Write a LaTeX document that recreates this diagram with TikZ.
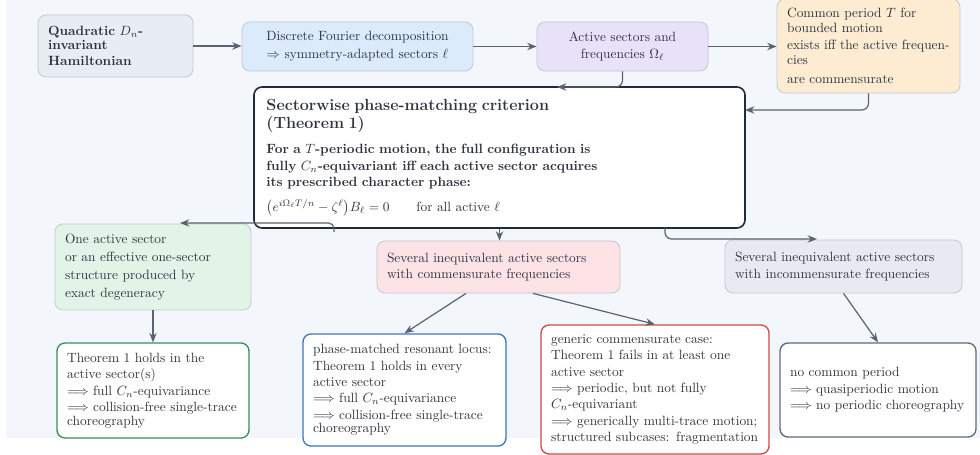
\documentclass[tikz,border=0pt]{standalone}
\usetikzlibrary{arrows.meta,calc}
\definecolor{bg}{HTML}{F3F6FA}
\definecolor{txt}{HTML}{2F3540}
\definecolor{bord}{HTML}{C3C8D0}
\definecolor{arrowc}{HTML}{5C6370}
\definecolor{navy}{HTML}{1F2A3A}
\definecolor{fA}{HTML}{E8ECF3}
\definecolor{fB}{HTML}{DCEBFC}
\definecolor{fC}{HTML}{E9E1FA}
\definecolor{fD}{HTML}{FDEBD2}
\definecolor{fG}{HTML}{E2F4E7}
\definecolor{fP}{HTML}{FDE3E6}
\definecolor{fY}{HTML}{E7EBF1}
\definecolor{cgreen}{HTML}{3C8C5A}
\definecolor{cblue}{HTML}{3A78C0}
\definecolor{cred}{HTML}{D04848}
\definecolor{cslate}{HTML}{5F6B7A}
\tikzset{
  base/.style={rounded corners=6pt, inner xsep=7.5pt, inner ysep=2pt,
    font=\fontsize{10}{12.2}\selectfont, text=txt, line width=0.6pt},
  soft/.style={base, draw=bord, align=left},
  strong/.style={base, fill=white, line width=1pt, align=left},
  arr/.style={draw=arrowc, line width=0.9pt, rounded corners=5pt,
    -{Stealth[length=7pt,width=5.5pt]}}
}
\begin{document}
\begin{tikzpicture}[x=0.746pt,y=-0.746pt]
\useasboundingbox (0,0) rectangle (980,455);
\fill[bg] (6,0) rectangle (980,438);

\node[soft, fill=fA, text width=100.6pt, minimum height=46.3pt] (A) at (115.5,46)
  {\textbf{Quadratic $D_n$-}\\[-2.2pt]\textbf{invariant}\\\textbf{Hamiltonian}};
\node[soft, fill=fB, align=center, text width=157.3pt, minimum height=36.6pt] (B) at (357.5,46.5)
  {Discrete Fourier decomposition\\[1.2pt]$\Rightarrow$ symmetry-adapted sectors $\ell$};
\node[soft, fill=fC, align=center, text width=112.6pt, minimum height=36.6pt] (C) at (622.5,46.5)
  {Active sectors and\\[1.2pt]frequencies $\Omega_\ell$};
\node[soft, fill=fD, text width=121.5pt, minimum height=70.1pt] (D) at (868.5,46)
  {Common period $T$ for\\[-1pt]bounded motion\\[0.5pt]exists iff the active frequen-\\[-1pt]cies\\[1.5pt]are commensurate};

\node[base, draw=navy, fill=white, line width=1.2pt, inner xsep=9.3pt, align=left,
      text width=347.7pt, minimum height=105.2pt] (E) at (499.5,157.5)
  {{\large\bfseries Sectorwise phase-matching criterion}\\[1.2pt]
   {\large\bfseries (Theorem 1)}\\[6.8pt]
   \textbf{For a $T$-periodic motion, the full configuration is}\\
   \textbf{fully $C_n$-equivariant iff each active sector acquires}\\
   \textbf{its prescribed character phase:}\\[6.3pt]
   $\bigl(e^{i\Omega_\ell T/n}-\zeta^\ell\bigr)B_\ell=0$\qquad for all active $\ell$};

\node[soft, fill=fG, text width=131.2pt, minimum height=64.2pt] (G1) at (153,267)
  {One active sector\\[1.2pt]or an effective one-sector\\[1.2pt]structure produced by\\[1.2pt]exact degeneracy};
\node[soft, fill=fP, text width=166.3pt, minimum height=38.8pt] (P) at (498.5,267)
  {Several inequivalent active sectors\\with commensurate frequencies};
\node[soft, fill=fY, text width=161.8pt, minimum height=39.5pt] (Y) at (843.5,266.5)
  {Several inequivalent active sectors\\with incommensurate frequencies};

\node[strong, draw=cgreen, text width=128.2pt, minimum height=70.9pt] (G2) at (153,390.5)
  {Theorem 1 holds in the\\active sector(s)\\$\Longrightarrow$ full $C_n$-equivariance\\$\Longrightarrow$ collision-free single-trace\\[-2.2pt]choreography};
\node[strong, draw=cblue, text width=136.4pt, minimum height=83.6pt] (Bl) at (404.5,390)
  {phase-matched resonant locus:\\Theorem 1 holds in every\\active sector\\$\Longrightarrow$ full $C_n$-equivariance\\$\Longrightarrow$ collision-free single-trace\\[-2.2pt]choreography};
\node[strong, draw=cred, text width=155.1pt, minimum height=96.2pt] (R) at (655,389.5)
  {generic commensurate case:\\Theorem 1 fails in at least one\\active sector\\$\Longrightarrow$ periodic, but not fully\\$C_n$-equivariant\\$\Longrightarrow$ generically multi-trace motion;\\structured subcases: fragmentation};
\node[strong, draw=cslate, text width=131.2pt, minimum height=70.1pt] (S) at (878,390)
  {no common period\\$\Longrightarrow$ quasiperiodic motion\\$\Longrightarrow$ no periodic choreography};

\coordinate (cE) at (557,87);
\coordinate (dE) at (745,110);
\coordinate (eL) at (334,232);
\coordinate (gL) at (180,223);
\coordinate (eR) at (665,228);
\coordinate (gR) at (817,239);

\draw[arr] (A.east) -- (A.east -| B.west);
\draw[arr] (B.east) -- (B.east -| C.west);
\draw[arr] (C.east) -- (C.east -| D.west);
\draw[arr] (C.south) |- (cE);
\draw[arr] (D.south) |- (dE);
\draw[arr] (E.south) -- (E.south |- P.north);
\draw[arr, rounded corners=4pt] (eL) |- (gL);
\draw[arr] (eR) |- (gR);
\draw[arr] (G1.south) -- (G2.north);
\draw[arr] ($(P.south)+(-32.5,0)$) -- (Bl.north);
\draw[arr] ($(P.south)+(34.5,0)$) -- (R.north);
\draw[arr] (Y.south) -- (S.north);
\end{tikzpicture}
\end{document}
